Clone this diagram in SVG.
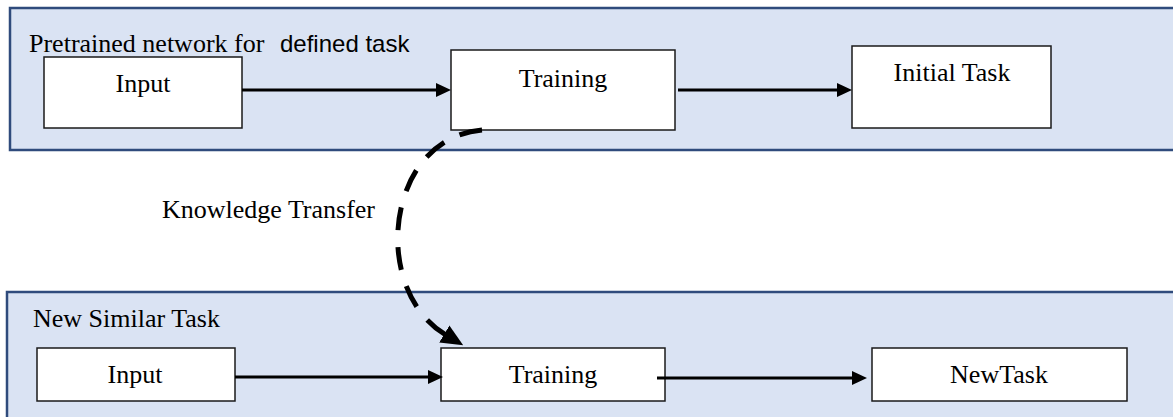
<svg xmlns="http://www.w3.org/2000/svg" width="1173" height="417" viewBox="0 0 1173 417">
  <defs>
    <style>
      .panel { fill: #dae3f3; stroke: #2f4b7c; stroke-width: 2.5; }
      .box { fill: #ffffff; stroke: #1a1a1a; stroke-width: 1.5; }
      .lbl { font-family: "Liberation Serif", "Times New Roman", serif; font-size: 26px; fill: #000; }
      .mid { text-anchor: middle; }
      .sans { font-family: "Liberation Sans", Arial, sans-serif; font-size: 24px; }
      .flow { fill: none; stroke: #000; stroke-width: 3; marker-end: url(#head); }
      .transfer { fill: none; stroke: #000; stroke-width: 5; stroke-dasharray: 23 17; marker-end: url(#bighead); }
    </style>
    <marker id="head" markerUnits="userSpaceOnUse" markerWidth="15" markerHeight="14" refX="5" refY="7" orient="auto">
      <path d="M0,0 L15,7 L0,14 Z" fill="#000"/>
    </marker>
    <marker id="bighead" markerUnits="userSpaceOnUse" markerWidth="22" markerHeight="20" refX="2" refY="10" orient="auto">
      <path d="M0,0 L22,10 L0,20 Z" fill="#000"/>
    </marker>
  </defs>

  <!-- background panels -->
  <g id="panel-pretrained">
    <rect class="panel" x="10" y="8" width="1200" height="142"/>
    <text class="lbl" x="29" y="52">Pretrained network for <tspan class="sans" x="280">defined task</tspan></text>
  </g>
  <g id="panel-new">
    <rect class="panel" x="7" y="292" width="1200" height="140"/>
    <text class="lbl" x="33" y="327">New Similar Task</text>
  </g>

  <!-- pretrained pipeline -->
  <g id="node-input-top">
    <rect class="box" x="44" y="57" width="198" height="71"/>
    <text class="lbl mid" x="143" y="92">Input</text>
  </g>
  <g id="node-training-top">
    <rect class="box" x="451" y="50" width="224" height="80"/>
    <text class="lbl mid" x="563" y="87">Training</text>
  </g>
  <g id="node-initial-task">
    <rect class="box" x="852" y="46" width="199" height="82"/>
    <text class="lbl mid" x="952" y="81">Initial Task</text>
  </g>

  <!-- new task pipeline -->
  <g id="node-input-bottom">
    <rect class="box" x="37" y="348" width="198" height="53"/>
    <text class="lbl mid" x="135" y="383">Input</text>
  </g>
  <g id="node-training-bottom">
    <rect class="box" x="441" y="348" width="224" height="53"/>
    <text class="lbl mid" x="553" y="383">Training</text>
  </g>
  <g id="node-newtask">
    <rect class="box" x="872" y="348" width="255" height="53"/>
    <text class="lbl mid" x="999" y="383">NewTask</text>
  </g>

  <!-- connectors -->
  <g id="connectors">
    <path class="flow" d="M242,90 L441,90"/>
    <path class="flow" d="M678,90 L842,90"/>
    <path class="flow" d="M235,377 L433,377"/>
    <path class="flow" d="M657,378 L857,378"/>
    <path class="transfer" d="M482,130 C385,138 370,290 446,335"/>
    <text class="lbl" x="162" y="218">Knowledge Transfer</text>
  </g>
</svg>
